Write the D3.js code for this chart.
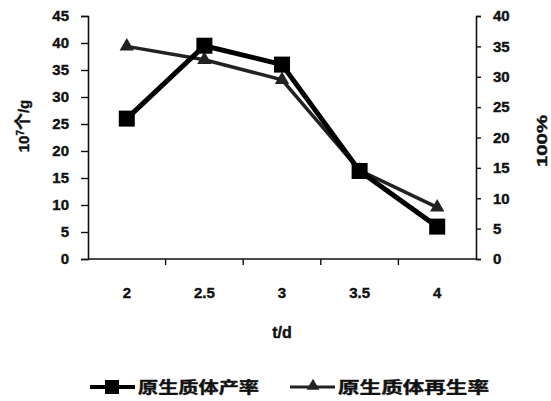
<!DOCTYPE html>
<html>
<head>
<meta charset="utf-8">
<script src="https://cdn.jsdelivr.net/npm/d3@7"></script>
<style>
  body { margin: 0; background: #fff; }
  svg text { font-family: "Liberation Sans", Arial, sans-serif; font-weight: bold; fill: #111; stroke: #111; stroke-width: 0.4px; }
  .cjk { font-family: "Noto Sans CJK SC", sans-serif; }
</style>
</head>
<body>
<div id="chart"></div>
<script>
var days = ["2", "2.5", "3", "3.5", "4"],
	yieldVals = [26, 39.5, 36, 16.3, 6],
	regenVals = [35, 32.8, 29.5, 14.6, 8.5],
	leftTicks = [0, 5, 10, 15, 20, 25, 30, 35, 40, 45],
	rightTicks = [0, 5, 10, 15, 20, 25, 30, 35, 40],
	seriesNames = ["原生质体产率", "原生质体再生率"];

var W = 551, H = 401,
	plot = {left: 88, right: 476, top: 16, bottom: 259};

var svg = d3.select("#chart").append("svg")
	.attr("width", W)
	.attr("height", H);

var x = d3.scaleBand()
		.domain(days)
		.range([plot.left, plot.right]),
	yL = d3.scaleLinear()
		.domain([0, 45])
		.range([plot.bottom, plot.top]),
	yR = d3.scaleLinear()
		.domain([0, 40])
		.range([plot.bottom, plot.top]);

// left axis
svg.append("g")
	.attr("transform", "translate(" + plot.left + ",0)")
	.call(d3.axisLeft(yL).tickValues(leftTicks).tickSize(7).tickPadding(12));

// right axis
svg.append("g")
	.attr("transform", "translate(" + plot.right + ",0)")
	.call(d3.axisRight(yR).tickValues(rightTicks).tickSize(5).tickPadding(12));

// bottom axis: ticks on category boundaries
var bottomAxis = svg.append("g")
	.attr("transform", "translate(0," + plot.bottom + ")");
bottomAxis.append("line")
	.attr("x1", plot.left).attr("x2", plot.right)
	.attr("stroke", "#111").attr("stroke-width", 1.6);
bottomAxis.selectAll(".tk")
	.data(days.slice(1)).enter()
	.append("line")
	.attr("x1", function(d){ return x(d); })
	.attr("x2", function(d){ return x(d); })
	.attr("y1", 0).attr("y2", 6)
	.attr("stroke", "#111").attr("stroke-width", 1.4);
bottomAxis.selectAll("text")
	.data(days).enter()
	.append("text")
	.attr("x", function(d){ return x(d) + x.bandwidth()/2; })
	.attr("y", 39)
	.attr("text-anchor", "middle")
	.style("font-size", "15px")
	.text(function(d){ return d; });

svg.selectAll(".domain").attr("stroke", "#111").attr("stroke-width", 1.6);
svg.selectAll(".tick line").attr("stroke", "#111").attr("stroke-width", 1.4);
svg.selectAll(".tick text").style("font-size", "15px").style("font-family", "Liberation Sans, Arial, sans-serif").style("font-weight", "bold").attr("fill", "#111");

// axis titles
svg.append("text")
	.attr("transform", "translate(29,126) rotate(-90)")
	.attr("text-anchor", "middle")
	.style("font-size", "15px")
	.html('10<tspan dy="-5" style="font-size:10px">7</tspan><tspan dy="5" class="cjk" style="font-size:17px">个</tspan>/g');

svg.append("text")
	.attr("transform", "translate(547,141) rotate(-90)")
	.attr("text-anchor", "middle")
	.style("font-size", "14px")
	.attr("textLength", 52)
	.attr("lengthAdjust", "spacingAndGlyphs")
	.text("100%");

svg.append("text")
	.attr("x", 282).attr("y", 338)
	.attr("text-anchor", "middle")
	.style("font-size", "16px")
	.text("t/d");

var cx = function(d, i){ return x(days[i]) + x.bandwidth()/2; };

// regeneration rate (right axis), triangles
svg.append("path")
	.datum(regenVals)
	.attr("fill", "none")
	.attr("stroke", "#222")
	.attr("stroke-width", 3.5)
	.attr("d", d3.line().x(cx).y(function(d){ return yR(d); }));
svg.selectAll(".tri")
	.data(regenVals).enter()
	.append("path")
	.attr("transform", function(d, i){ return "translate(" + cx(d, i) + "," + yR(d) + ")"; })
	.attr("d", d3.symbol().type(d3.symbolTriangle).size(90))
	.attr("fill", "#222");

// protoplast yield (left axis), squares
svg.append("path")
	.datum(yieldVals)
	.attr("fill", "none")
	.attr("stroke", "#000")
	.attr("stroke-width", 5)
	.attr("d", d3.line().x(cx).y(function(d){ return yL(d); }));
svg.selectAll(".sq")
	.data(yieldVals).enter()
	.append("rect")
	.attr("x", function(d, i){ return cx(d, i) - 8; })
	.attr("y", function(d){ return yL(d) - 8; })
	.attr("width", 16).attr("height", 16)
	.attr("fill", "#000");

// legend
var legend = svg.append("g").attr("transform", "translate(0,387)");
var lg1 = legend.append("g").attr("transform", "translate(90,0)");
lg1.append("line").attr("x1", 0).attr("x2", 45).attr("stroke", "#000").attr("stroke-width", 4);
lg1.append("rect").attr("x", 15).attr("y", -7).attr("width", 14).attr("height", 14).attr("fill", "#000");
lg1.append("text").attr("class", "cjk").attr("x", 48).attr("y", 6)
	.style("font-size", "16px")
	.attr("textLength", 121).attr("lengthAdjust", "spacingAndGlyphs")
	.text(seriesNames[0]);

var lg2 = legend.append("g").attr("transform", "translate(290,0)");
lg2.append("line").attr("x1", 0).attr("x2", 45).attr("stroke", "#222").attr("stroke-width", 3);
lg2.append("path").attr("transform", "translate(23,-1)").attr("d", d3.symbol().type(d3.symbolTriangle).size(70)).attr("fill", "#222");
lg2.append("text").attr("class", "cjk").attr("x", 48).attr("y", 6)
	.style("font-size", "16px")
	.attr("textLength", 151).attr("lengthAdjust", "spacingAndGlyphs")
	.text(seriesNames[1]);
</script>
</body>
</html>
